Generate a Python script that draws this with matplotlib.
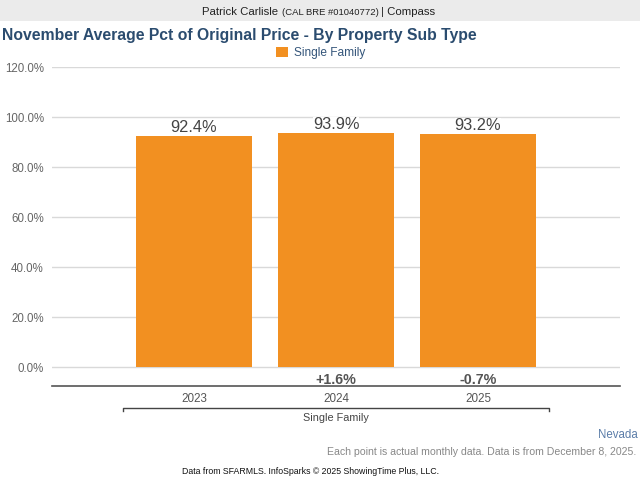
import matplotlib
matplotlib.use("Agg")
import matplotlib.pyplot as plt
from matplotlib.patches import Rectangle
from matplotlib.lines import Line2D
from matplotlib import font_manager

plt.rcParams['font.family'] = ['Liberation Sans', 'DejaVu Sans']

years = ['2023', '2024', '2025']
values = [92.4, 93.9, 93.2]
value_labels = ['92.4%', '93.9%', '93.2%']
change_labels = ['', '+1.6%', '-0.7%']
series_name = 'Single Family'
yticks = [0, 20, 40, 60, 80, 100, 120]

W, H = 640, 480
fig = plt.figure(figsize=(6.4, 4.8), dpi=100)

def fy(p):
    return 1 - p / H

ax_left, ax_right, ax_top, ax_bot = 52, 620, 67.3, 386.3
ax = fig.add_axes([ax_left / W, fy(ax_bot), (ax_right - ax_left) / W, (ax_bot - ax_top) / H])

orange = '#F29021'
x = list(range(len(years)))
ax.bar(x, values, width=0.813, color=orange, zorder=5)
ax.set_xlim(-1, 3)
ymin = -(ax_bot - 367.3) / 2.5
ax.set_ylim(ymin, 120)

for xi, v, lab in zip(x, values, value_labels):
    ax.annotate(lab, (xi, v), xytext=(0, 1.0), textcoords='offset pixels',
                ha='center', va='bottom', fontsize=11.8, color='#444444', zorder=4,
                bbox=dict(fc='white', ec='none', pad=0.0))

for xi, lab in zip(x, change_labels):
    if lab:
        ax.text(xi, -(383.6 - 367.3) / 2.5, lab, ha='center', va='baseline', fontsize=10.3,
                fontweight='bold', color='#555555')

ax.set_yticks(yticks)
ax.set_yticklabels([f'{t:.1f}%' for t in yticks])
ax.yaxis.grid(True, color='#d9d9d9', lw=1, zorder=0)
ax.set_axisbelow(True)
ax.tick_params(axis='y', length=0, pad=5.8, labelsize=8.3, labelcolor='#666666')
ax.set_xticks(x)
ax.set_xticklabels(years)
ax.tick_params(axis='x', length=0, pad=4.6, labelsize=8.4, labelcolor='#555555')
for s in ['left', 'right', 'top']:
    ax.spines[s].set_visible(False)
ax.spines['bottom'].set_color('#555555')
ax.spines['bottom'].set_linewidth(1.2)

# group bracket
tr = ax.get_xaxis_transform()
ax_h = ax_bot - ax_top
yb = -(407.5 - ax_bot) / ax_h
yt = -(411.0 - ax_bot) / ax_h
ax.add_line(Line2D([-0.5, -0.5, 2.5, 2.5], [yt, yb, yb, yt], transform=tr,
                   color='#444444', lw=1, clip_on=False))
ax.text(1, -(421.3 - ax_bot) / ax_h, series_name, transform=tr, ha='center',
        va='baseline', fontsize=7.8, color='#444444')

# header band
fig.patches.append(Rectangle((0, fy(20.7)), 1, 20.7 / H, transform=fig.transFigure,
                             facecolor='#ebebeb', edgecolor='none', zorder=0))
renderer = fig.canvas.get_renderer()
parts = [('Patrick Carlisle ', 8.2), ('(CAL BRE #01040772)', 6.8), (' | Compass', 8.2)]
texts = []
for s, fs in parts:
    t = fig.text(0, fy(15), s, fontsize=fs, color='#222222', va='baseline', ha='left')
    texts.append(t)
widths = [t.get_window_extent(renderer).width for t in texts]
xpos = 319 - sum(widths) / 2
for t, w in zip(texts, widths):
    t.set_x(xpos / W)
    xpos += w

# title
fig.text(2 / W, fy(40.3), 'November Average Pct of Original Price - By Property Sub Type',
         fontsize=11.35, fontweight='bold', color='#2B4C6F', va='baseline', ha='left')

# legend
fig.legend(handles=[Rectangle((0, 0), 1, 1, facecolor=orange, edgecolor='none')],
           labels=[series_name], loc='center', bbox_to_anchor=(321 / W, fy(53)),
           frameon=False, fontsize=8.6, labelcolor='#34557A', handlelength=1.0,
           handleheight=1.0, handletextpad=0.5, borderpad=0)

# footer
names = {f.name for f in font_manager.fontManager.ttflist}
narrow = 'Liberation Sans Narrow' in names
fig.text(638 / W, fy(438.3), 'Nevada', fontsize=8.3, color='#5A7CA8', ha='right', va='baseline')
fig.text(636 / W, fy(455), 'Each point is actual monthly data. Data is from December 8, 2025.',
         fontsize=7.6, color='#888888', ha='right', va='baseline')
fig.text(310 / W, fy(474), 'Data from SFARMLS. InfoSparks \u00a9 2025 ShowingTime Plus, LLC.',
         fontsize=7.5 if narrow else 6.3, color='#111111', ha='center', va='baseline',
         family=['Liberation Sans Narrow', 'Liberation Sans'] if narrow else ['Liberation Sans'])

fig.savefig('out.png', dpi=100)
